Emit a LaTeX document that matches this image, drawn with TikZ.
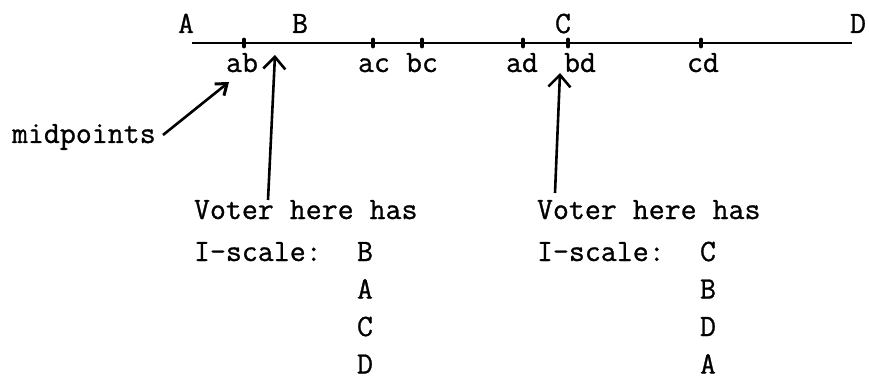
\documentclass[tikz,border=0pt]{standalone}
\usepackage{fontspec}
\newfontfamily\typewriter{Latin Modern Mono}[FakeBold=0.9]
\usetikzlibrary{arrows.meta}
\tikzset{
  txt/.style={font=\fontsize{31}{31}\selectfont\typewriter, inner sep=0pt, outer sep=0pt},
  axis/.style={line width=2.2pt},
  tick/.style={line width=3.8pt, line cap=round},
  pointer/.style={line width=2.6pt, -{Straight Barb[length=12pt,width=22pt,line width=2.6pt]}},
  smallpointer/.style={line width=2.6pt, -{Straight Barb[length=10pt,width=15pt,line width=3pt]}}
}
\begin{document}
\begin{tikzpicture}[x=1pt,y=-1pt]
  \useasboundingbox (0,0) rectangle (869,379);

  % the scale line
  \coordinate (lineL) at (192,43);
  \coordinate (lineR) at (852,43);
  \draw[axis] (lineL) -- (lineR);

  % stimulus labels above the line
  \node[txt, anchor=base] (A) at (186,33) {A};
  \node[txt, anchor=base] (B) at (300,33) {B};
  \node[txt, anchor=base] (C) at (563,33) {C};
  \node[txt, anchor=base] (D) at (858,33) {D};

  % midpoint ticks
  \foreach \n/\x in {ab/244, ac/373, bc/422, ad/523, bd/568, cd/701} {
    \coordinate (t\n) at (\x,43);
    \draw[tick] (\x,39.5) -- (\x,46.5);
  }

  % midpoint labels below the line
  \node[txt, anchor=base] (lab) at (242,72) {ab};
  \node[txt, anchor=base] (lac) at (374,72) {ac};
  \node[txt, anchor=base] (lbc) at (422,72) {bc};
  \node[txt, anchor=base] (lad) at (522,72) {ad};
  \node[txt, anchor=base] (lbd) at (580,72) {bd};
  \node[txt, anchor=base] (lcd) at (703,72) {cd};

  % "midpoints" annotation
  \node[txt, anchor=base west] (mid) at (12,143) {midpoints};
  \coordinate (midfoot) at (163,135);
  \coordinate (midtip) at (229,82);
  \draw[smallpointer] (midfoot) -- (midtip);

  % left voter
  \coordinate (v1foot) at (268,200);
  \coordinate (v1tip) at (275,55);
  \draw[pointer] (v1foot) -- (v1tip);
  \node[txt, anchor=base west] (v1a) at (194,219) {Voter here has};
  \node[txt, anchor=base west] (v1b) at (194,261) {I-scale:};
  \node[txt, anchor=base west] (v1r1) at (357,261) {B};
  \node[txt, anchor=base west] (v1r2) at (357,298.5) {A};
  \node[txt, anchor=base west] (v1r3) at (357,336) {C};
  \node[txt, anchor=base west] (v1r4) at (357,373.5) {D};

  % right voter
  \coordinate (v2foot) at (555,193);
  \coordinate (v2tip) at (560,73);
  \draw[pointer] (v2foot) -- (v2tip);
  \node[txt, anchor=base west] (v2a) at (537,219) {Voter here has};
  \node[txt, anchor=base west] (v2b) at (537,261) {I-scale:};
  \node[txt, anchor=base west] (v2r1) at (700,261) {C};
  \node[txt, anchor=base west] (v2r2) at (700,298.5) {B};
  \node[txt, anchor=base west] (v2r3) at (700,336) {D};
  \node[txt, anchor=base west] (v2r4) at (700,373.5) {A};
\end{tikzpicture}
\end{document}
